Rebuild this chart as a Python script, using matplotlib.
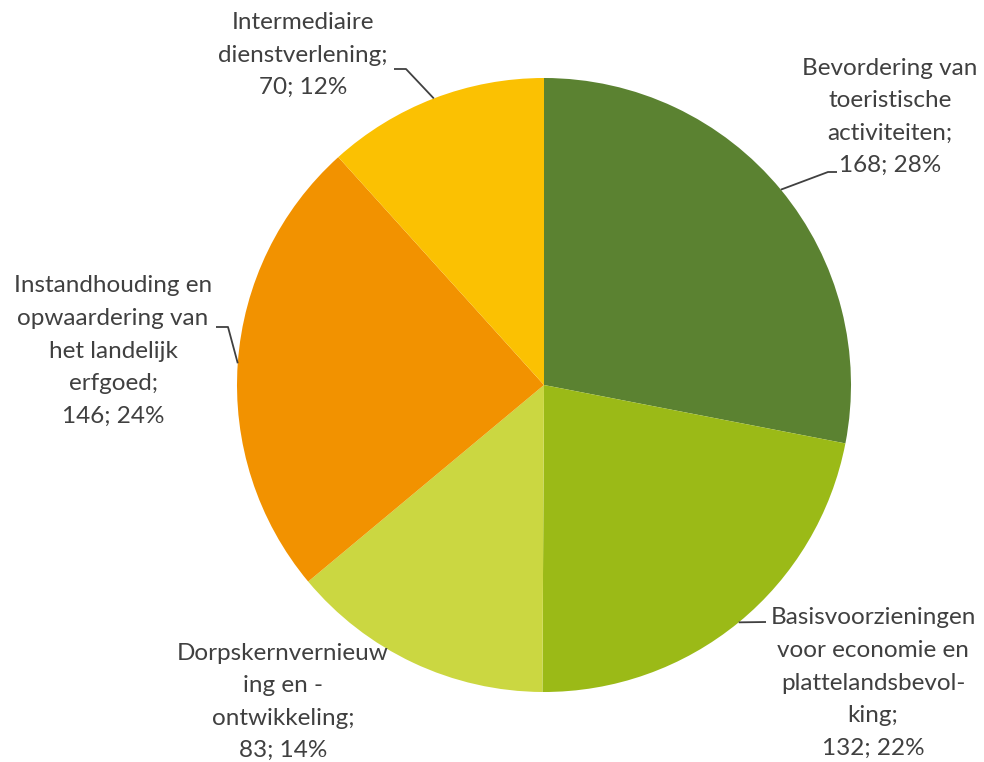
import matplotlib
matplotlib.use("Agg")
import matplotlib.pyplot as plt
import numpy as np

categories = [
    "Bevordering van\ntoeristische\nactiviteiten",
    "Basisvoorzieningen\nvoor economie en\nplattelandsbevol-\nking",
    "Dorpskernvernieuw\ning en -\nontwikkeling",
    "Instandhouding en\nopwaardering van\nhet landelijk\nerfgoed",
    "Intermediaire\ndienstverlening",
]
values = [168, 132, 83, 146, 70]
colors = ["#5B8231", "#9BBA17", "#CBD741", "#F29200", "#FBC102"]

W, H = 984, 762
fig = plt.figure(figsize=(W / 100, H / 100), dpi=100)
ax = fig.add_axes([0, 0, 1, 1])

cx, cy, R = 544, H - 385, 307
wedges, _ = ax.pie(values, colors=colors, startangle=90, counterclock=False,
                   center=(cx, cy), radius=R, frame=True,
                   wedgeprops=dict(linewidth=0))
ax.set_xlim(0, W)
ax.set_ylim(0, H)
ax.set_aspect("equal")
ax.axis("off")

total = sum(values)
font = ["Lato", "DejaVu Sans"]
txtcol = "#404040"
fs = 17.5
lsp = 32.5

# label layout: (center x, center y in pixel-from-top)
label_pos = [(890, 117), (873, 683), (283, 702), (113, 351), (303, 55)]
# leader elbows (pixel-from-top), list of points after the edge point
leaders = [
    [(828, 172), (837, 172)],
    [(766, 622)],
    None,
    [(228, 327), (216, 327)],
    [(406, 69), (394, 69)],
]

for i, (cat, v) in enumerate(zip(categories, values)):
    pct = round(100 * v / total)
    lines = cat.split("\n")
    lines[-1] = lines[-1] + ";"
    lines.append(f"{v}; {pct}%")
    x, yc = label_pos[i]
    n = len(lines)
    for k, ln in enumerate(lines):
        yk = yc + (k - (n - 1) / 2) * lsp
        ax.text(x, H - yk, ln, ha="center", va="center", fontsize=fs,
                family=font, color=txtcol)
    if leaders[i] is not None:
        w = wedges[i]
        mid = np.deg2rad((w.theta1 + w.theta2) / 2)
        ex, ey = cx + R * np.cos(mid), cy + R * np.sin(mid)
        xs = [ex] + [p[0] for p in leaders[i]]
        ys = [ey] + [H - p[1] for p in leaders[i]]
        ax.plot(xs, ys, color="#404040", lw=1.3, solid_capstyle="butt")

fig.savefig("out.png", dpi=100)
